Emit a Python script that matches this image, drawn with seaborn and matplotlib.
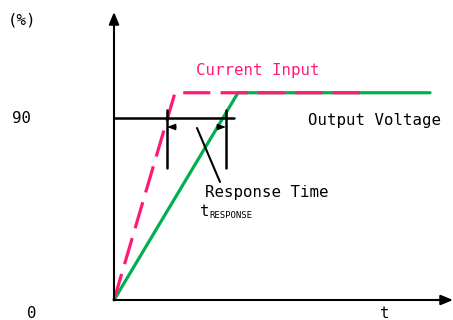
import matplotlib
matplotlib.use("Agg")
import matplotlib.pyplot as plt
import seaborn as sns
import pandas as pd

sns.set_theme(style="white")
plt.rcParams['font.family'] = ['DejaVu Sans Mono', 'DejaVu Sans']

# Data (time in arbitrary units, level in %)
current_t = [0, 6.1, 25.6]
current_y = [0, 102.5, 102.5]
voltage_t = [0, 12.4, 31.6]
voltage_y = [0, 102.5, 102.5]
threshold = 90
t_start_resp = 5.3
t_end_resp = 11.2
ytick_labels = ["0", "90"]

# pixel -> data helpers for annotation placement
def px(x):
    return (x - 114) / 10.0
def py(y):
    return (300 - y) / 2.022

fig = plt.figure(figsize=(4.53, 3.2), dpi=100)
ax = fig.add_axes([0, 0, 1, 1])
ax.set_xlim(px(0), px(453))
ax.set_ylim(py(320), py(0))
ax.axis("off")

df_c = pd.DataFrame({"t": current_t, "y": current_y})
df_v = pd.DataFrame({"t": voltage_t, "y": voltage_y})
sns.lineplot(data=df_v, x="t", y="y", ax=ax, color="#00B050", lw=2.3, sort=False)
sns.lineplot(data=df_c, x="t", y="y", ax=ax, color="#FF1A75", lw=2.3, sort=False,
             dashes=False, linestyle=(0, (8.5, 3.2)))

# axes with arrows
ax.annotate("", xy=(px(453), 0), xytext=(0, 0),
            arrowprops=dict(arrowstyle="-|>,head_length=0.6,head_width=0.25", color="black", lw=1.5,
                            shrinkA=0, shrinkB=0))
ax.annotate("", xy=(0, py(12)), xytext=(0, 0),
            arrowprops=dict(arrowstyle="-|>,head_length=0.6,head_width=0.25", color="black", lw=1.5,
                            shrinkA=0, shrinkB=0))

# threshold line
ax.plot([0, px(234)], [threshold, threshold], color="black", lw=1.8)
# response markers
for tx in (t_start_resp, t_end_resp):
    ax.plot([tx, tx], [py(110), py(168)], color="black", lw=1.8)
ax.annotate("", xy=(t_start_resp, py(127)), xytext=(t_start_resp + 0.9, py(127)),
            arrowprops=dict(arrowstyle="-|>,head_length=0.4,head_width=0.15", color="black", lw=1,
                            shrinkA=0, shrinkB=0))
ax.annotate("", xy=(t_end_resp, py(127)), xytext=(t_end_resp - 0.9, py(127)),
            arrowprops=dict(arrowstyle="-|>,head_length=0.4,head_width=0.15", color="black", lw=1,
                            shrinkA=0, shrinkB=0))
# leader line
ax.plot([px(197), px(220)], [py(128), py(182)], color="black", lw=1.5)

fs = 11.3
ax.text(px(8), py(20), "(%)", fontsize=fs, va="center", ha="left", color="black")
ax.text(px(12), threshold, ytick_labels[1], fontsize=fs, va="center", ha="left", color="black")
ax.text(px(32), py(313), ytick_labels[0], fontsize=fs, va="center", ha="center", color="black")
ax.text(px(385), py(313), "t", fontsize=fs, va="center", ha="center", color="black")
ax.text(px(196), py(70), "Current Input", fontsize=fs, va="center", ha="left", color="#FF1A75")
ax.text(px(308), py(120), "Output Voltage", fontsize=fs, va="center", ha="left", color="black")
ax.text(px(205), py(192), "Response Time", fontsize=fs, va="center", ha="left", color="black")
ax.text(px(200), py(212), "t", fontsize=fs, va="center", ha="left", color="black")
ax.text(px(209), py(216), "RESPONSE", fontsize=6.5, va="center", ha="left", color="black")

fig.savefig("out.png", dpi=100)
